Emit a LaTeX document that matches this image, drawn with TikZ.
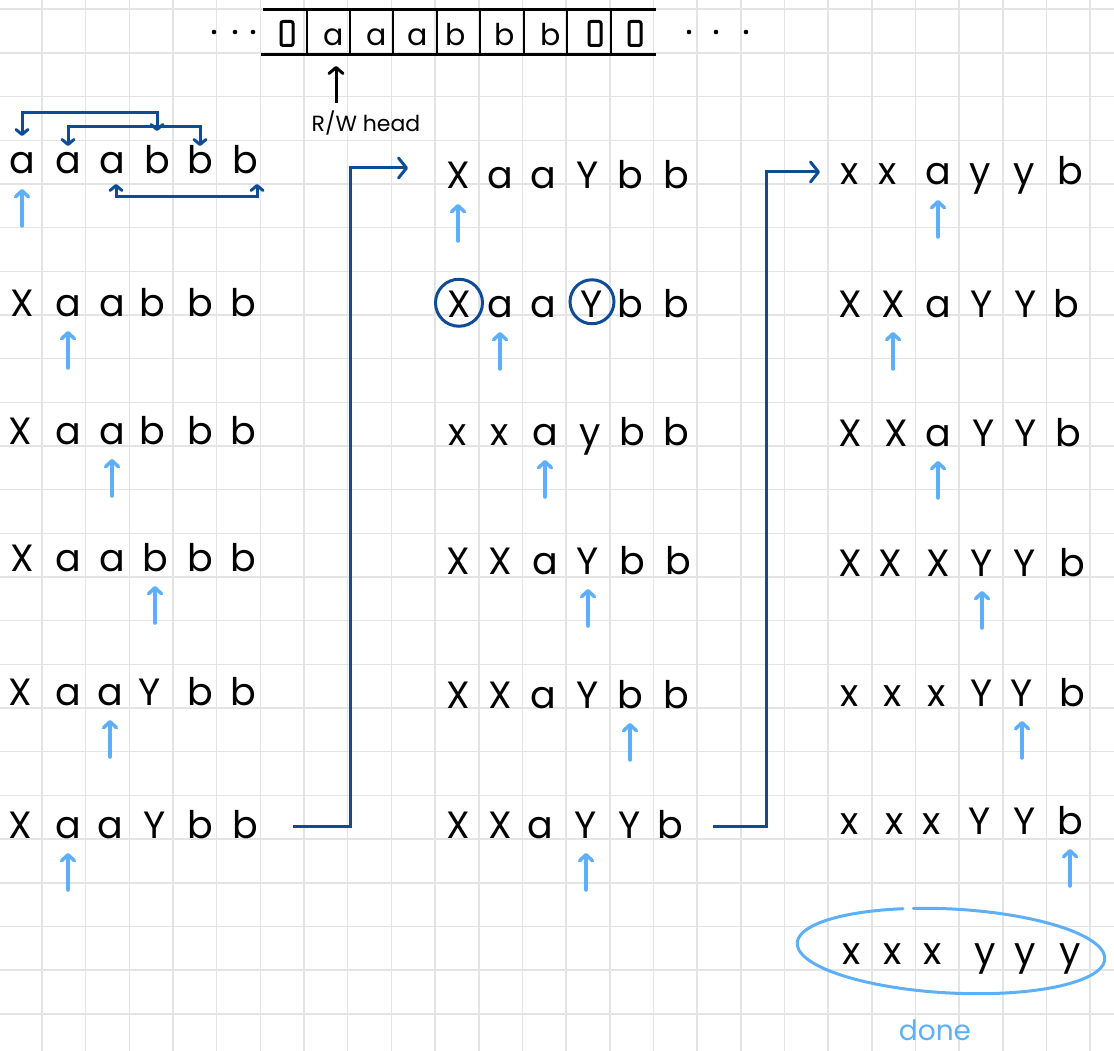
\documentclass[tikz,border=0pt]{standalone}
\usepackage{fontspec}
\setmainfont{Poppins}
\usetikzlibrary{arrows.meta,calc}
\definecolor{dkblue}{HTML}{0E4C97}
\definecolor{ltblue}{HTML}{5DB0F8}
\definecolor{gridc}{HTML}{E4E4E4}
\newcommand\symrow[4]{%
  \foreach \ch [count=\i] in {#4} {%
    \pgfmathsetmacro\xx{{#3}[\i-1]}%
    \node[sym] (#1-\i) at (\xx,#2+1) {\ch};
  }}
\newcommand\ptrat[1]{\draw[ptr] ($(#1.base)+(0,52)$) -- ($(#1.base)+(0,15)$);}
\begin{document}
\begin{tikzpicture}[x=1pt,y=-1pt,
  sym/.style={font=\fontsize{38}{42}\selectfont, anchor=base, inner sep=0pt},
  tapechar/.style={font=\fontsize{30}{34}\selectfont, anchor=base, inner sep=0pt},
  blank/.style={draw, line width=3pt, rounded corners=2pt, minimum width=12pt, minimum height=24pt, inner sep=0pt},
  gridline/.style={gridc, line width=1.6pt},
  tapeline/.style={black, line width=3pt},
  divider/.style={black, line width=2.5pt},
  ptr/.style={ltblue, line width=3.5pt, line cap=round, -{Straight Barb[length=6pt,width=13pt,round]}},
  bracket/.style={dkblue, line width=3pt, {Straight Barb[length=5pt,width=12pt,round]}-{Straight Barb[length=5pt,width=12pt,round]}},
  conn/.style={dkblue, line width=3pt, -{Straight Barb[length=8pt,width=20pt,round]}},
  headarrow/.style={black, line width=3pt, -{Straight Barb[length=6pt,width=14pt,round]}},
  ringmark/.style={circle, draw=dkblue, line width=3pt, minimum size=47pt, inner sep=0pt},
]
\useasboundingbox (0,0) rectangle (1114,1051);
\fill[white] (0,0) rectangle (1114,1051);
% grid paper
\foreach \k in {0,...,24} \draw[gridline] (42+43.67*\k,0) -- (42+43.67*\k,1051);
\foreach \k in {0,...,23} \draw[gridline] (0,9.3+43.67*\k) -- (1114,9.3+43.67*\k);

% tape
\draw[tapeline] (263,10) -- (656,10);
\draw[tapeline] (261,55) -- (656,55);
\foreach \xd in {307,350,393,437,480,524,567,611} \draw[divider] (\xd,10) -- (\xd,55);
\node[blank] (t1) at (287,33.5) {};
\node[tapechar] (t2) at (334,46) {a};
\node[tapechar] (t3) at (377,46) {a};
\node[tapechar] (t4) at (418,46) {a};
\node[tapechar] (t5) at (456,46) {b};
\node[tapechar] (t6) at (505,46) {b};
\node[tapechar] (t7) at (551,46) {b};
\node[blank] (t8) at (595,33.5) {};
\node[blank] (t9) at (635,33.5) {};
\foreach \xd in {214,235,253,689,716,746} \fill (\xd,32) circle (2.3);
\node[font=\fontsize{22}{26}\selectfont, inner sep=0pt] (rw) at (366,123) {R/W head};
\draw[headarrow] ($(t2.base)+(2,57)$) -- ($(t2.base)+(2,20)$);

% left column
\symrow{L1}{173}{22,68,112,157,200,245}{a,a,a,b,b,b}
\symrow{L2}{315}{22,68,112,152,200,243}{X,a,a,b,b,b}
\symrow{L3}{443}{20,68,112,152,200,243}{X,a,a,b,b,b}
\symrow{L4}{570}{22,68,112,155,200,243}{X,a,a,b,b,b}
\symrow{L5}{704}{20,68,110,150,200,243}{X,a,a,Y,b,b}
\symrow{L6}{837}{20,68,110,155,200,245}{X,a,a,Y,b,b}
% middle column
\symrow{M1}{188}{458,500,543,588,630,676}{X,a,a,Y,b,b}
\symrow{M2}{316}{459,500,543,592,630,676}{X,a,a,Y,b,b}
\symrow{M3}{444}{458,500,545,590,632,676}{x,x,a,y,b,b}
\symrow{M4}{573}{458,500,545,588,632,678}{X,X,a,Y,b,b}
\symrow{M5}{707}{458,500,543,588,630,676}{X,X,a,Y,b,b}
\symrow{M6}{837}{458,500,540,586,630,670}{X,X,a,Y,Y,b}
% right column
\symrow{R1}{184}{850,888,938,980,1024,1070}{x,x,a,y,y,b}
\symrow{R2}{316}{850,893,938,982,1026,1066}{X,X,a,Y,Y,b}
\symrow{R3}{445}{850,896,938,984,1026,1068}{X,X,a,Y,Y,b}
\symrow{R4}{575}{850,890,938,982,1025,1072}{X,X,X,Y,Y,b}
\symrow{R5}{705}{850,893,937,982,1022,1072}{x,x,x,Y,Y,b}
\symrow{R6}{833}{850,895,932,980,1025,1070}{x,x,x,Y,Y,b}
% done row
\symrow{D}{963}{852,893,933,985,1025,1070}{x,x,x,y,y,y}

% head pointers
\ptrat{L1-1}\ptrat{L2-2}\ptrat{L3-3}\ptrat{L4-4}\ptrat{L5-3}\ptrat{L6-2}
\ptrat{M1-1}\ptrat{M2-2}\ptrat{M3-3}\ptrat{M4-4}\ptrat{M5-5}\ptrat{M6-4}
\ptrat{R1-3}\ptrat{R2-2}\ptrat{R3-3}\ptrat{R4-4}\ptrat{R5-5}\ptrat{R6-6}

% pairing brackets in first row
\coordinate (ya) at (0,113);
\coordinate (yat) at (0,136);
\coordinate (yae) at (0,131);
\coordinate (yb) at (0,127);
\coordinate (ybt) at (0,146);
\coordinate (yc) at (0,197);
\coordinate (yct) at (0,184);
\coordinate (c3a) at ([xshift=4pt]L1-3.base);
\coordinate (c3b) at ([xshift=12pt]L1-6.base);
\draw[bracket] (L1-1 |- yat) -- (L1-1 |- ya) -- (L1-4 |- ya) -- (L1-4 |- yae);
\draw[bracket] (L1-2 |- ybt) -- (L1-2 |- yb) -- (L1-5 |- yb) -- (L1-5 |- ybt);
\draw[bracket] (c3a |- yct) -- (c3a |- yc) -- (c3b |- yc) -- (c3b |- yct);

% circled symbols
\node[ringmark] (cx) at ([yshift=1pt]M2-1.center) {};
\node[ringmark, minimum size=44pt] (cy) at ([yshift=2pt]M2-4.center) {};

% connectors between columns
\coordinate (c1s) at ($(L6-6.base)+(48,-12)$);
\coordinate (c1e) at ($(M1-1.base)+(-50,-21)$);
\coordinate (c2s) at ($(M6-6.base)+(43,-12)$);
\coordinate (c2e) at ($(R1-1.base)+(-30,-13)$);
\draw[conn] (c1s) -| ($(c1s)!.5!(c1e)$) |- (c1e);
\draw[conn] (c2s) -| ($(c2s)!.5!(c2e)$) |- (c2e);

% done
\draw[ltblue, line width=3pt, line cap=round, rotate around={-3:(951,951)}]
  ([shift={(255:154 and 42)}]951,951) arc[start angle=255, end angle=611, x radius=154, y radius=42];
\node[ltblue, font=\fontsize{28}{32}\selectfont, inner sep=0pt] (done) at (935,1030) {done};
\end{tikzpicture}
\end{document}
